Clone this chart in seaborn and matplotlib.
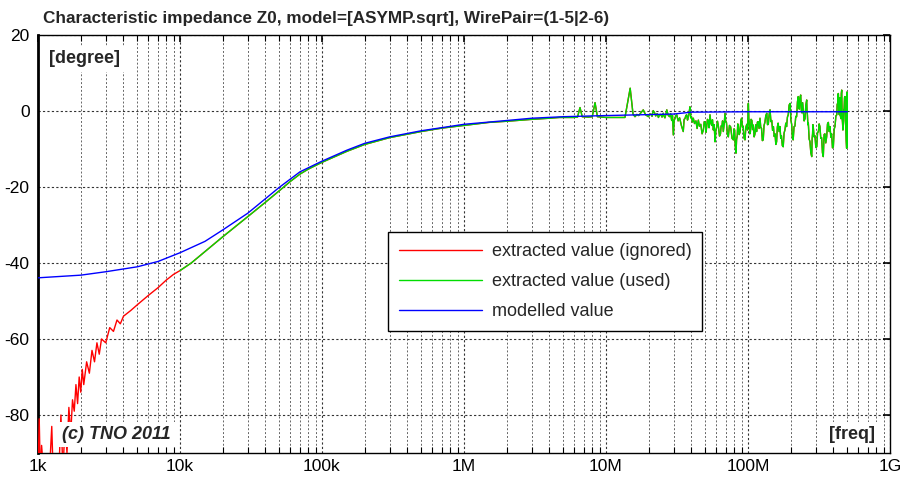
import numpy as np
import pandas as pd
import matplotlib
matplotlib.use("Agg")
import matplotlib.pyplot as plt
from matplotlib.ticker import LogLocator, FixedLocator, FixedFormatter, NullFormatter
import seaborn as sns

# ---- data (phase in degrees) ----
# low-frequency part of the extracted phase that the fit ignores (kHz)
ignored_khz = [1.00, 1.02, 1.04, 1.06, 1.10, 1.20, 1.25, 1.28, 1.35, 1.40, 1.45, 1.50,
               1.55, 1.60, 1.65, 1.70, 1.75, 1.80, 1.85, 1.90, 1.95, 2.00, 2.05, 2.10,
               2.20, 2.30, 2.40, 2.50, 2.60, 2.70, 2.80, 3.00, 3.20, 3.40, 3.60, 3.80,
               4.00, 4.50, 5.00, 6.00, 7.00, 8.00, 9.00, 10.0]
ignored_deg = [-96, -81, -97, -88, -96, -96, -83, -96, -92, -96, -80, -95,
               -82, -90, -78, -85, -76, -79, -72, -77, -70, -74, -68, -72,
               -66, -69, -63, -66, -61, -64, -60, -61, -57, -58, -55, -56,
               -54, -52.5, -51, -48.5, -46.5, -44.5, -43, -42]

# smooth part of the used extracted phase, 10 kHz .. 15 MHz (kHz)
used_smooth_khz = [10, 12, 15, 20, 25, 30, 40, 50, 60, 70, 80, 100, 150, 200, 300, 500,
                   700, 1000, 1500, 2000, 3000, 4000, 4700, 5900, 6300, 6560, 6800,
                   7500, 8000, 8370, 8700, 10000, 13600, 14800]
used_smooth_deg = [-42, -40, -37, -33.1, -30.2, -27.8, -24, -21, -18.5, -16.6, -15.3,
                   -13.5, -10.6, -8.8, -7.0, -5.4, -4.5, -3.8, -3.0, -2.7, -2.2, -1.9,
                   -1.7, -1.7, -1.6, 0.9, -1.5, -1.6, -1.5, 2.2, -1.5, -1.7, -1.7, 6.0]

# noisy high-frequency part of the used extracted phase (MHz)
used_noisy_mhz = [
    15.5, 16.0, 16.5, 17.0, 17.7, 18.3, 19.0, 19.9, 20.3, 20.7, 21.1, 21.5, 22.0, 22.4,
    22.9, 23.4, 23.8, 24.3, 24.8, 25.3, 25.6, 26.0, 26.4, 26.8, 27.4, 28.0, 28.5, 29.0,
    29.4, 29.8, 30.2, 30.6, 31.0, 31.5, 32.2, 33.0, 34.0, 35.0, 35.5, 36.0, 36.5, 37.0,
    37.5, 38.0, 38.5, 39.0, 39.5, 40.0, 40.6, 41.2, 42.0, 43.0, 43.8, 44.7, 45.5, 46.5,
    47.5, 48.5, 49.2, 50.0, 50.6, 51.2, 51.8, 52.5, 53.2, 54.0, 54.8, 55.5, 56.2, 57.0,
    57.8, 58.6, 59.3, 60.0, 61.0, 61.9, 63.0, 64.0, 64.7, 65.5, 66.2, 67.0, 68.0, 68.9,
    69.7, 70.5, 71.6, 72.7, 74.0, 75.5, 77.2, 78.9, 79.7, 80.5, 81.4, 82.3, 83.1, 84.0,
    84.7, 85.4, 86.7, 88.0, 89.1, 90.2, 91.3, 92.5, 93.8, 95.2, 96.6, 98.0, 99.3, 100.6,
    101.3, 102.0, 103.0, 104.0, 105.2, 106.5, 107.7, 109.0, 110.5, 112.0, 113.5, 115.0,
    116.5, 118.0, 119.7, 121.5, 123.0, 124.5, 126.2, 128.0, 129.7, 131.5, 133.5, 135.5,
    137.2, 139.0, 141.0, 143.0, 145.0, 147.0, 149.0, 151.0, 153.0, 155.0, 157.0, 159.0,
    161.0, 163.0, 165.5, 168.0, 170.0, 172.0, 174.5, 177.0, 179.5, 182.0, 184.5, 187.0,
    189.5, 192.0, 195.0, 198.0, 200.5, 203.0, 205.5, 208.0, 211.0, 214.0, 217.0, 220.0,
    223.0, 226.0, 228.0, 230.0, 232.5, 235.0, 237.5, 240.0, 242.5, 245.0, 248.5, 252.0,
    255.5, 259.0, 260.5, 262.0, 264.0, 266.0, 269.5, 273.0, 277.0, 281.0, 283.0, 285.0,
    286.5, 288.0, 292.0, 296.0, 300.5, 305.0, 309.0, 313.0, 317.0, 321.0, 325.5, 330.0,
    334.5, 339.0, 343.5, 348.0, 353.0, 358.0, 363.0, 368.0, 373.0, 378.0, 383.0, 388.0,
    393.5, 399.0, 404.5, 410.0, 416.0, 422.0, 425.0, 428.0, 430.5, 433.0, 436.5, 440.0,
    442.5, 445.0, 448.0, 451.0, 454.0, 457.0, 460.0, 463.0, 466.0, 469.0, 472.0, 475.0,
    478.5, 482.0, 485.0, 488.0, 491.5, 495.0, 497.5, 500.0]
used_noisy_deg = [
    -0.8, -1.5, -0.9, -1.2, -0.4, 0.3, -1.0, -1.5, -0.9, -0.8, -1.4, 0.1, -0.5, -1.3,
    -0.7, -1.7, -1.1, -0.9, -1.6, -0.6, -1.3, -1.8, -0.9, 0.3, -1.1, -1.5, -0.7, -2.5,
    -1.2, -6.3, -2.4, -2.0, -1.2, -1.0, -2.6, -1.8, -3.9, -5.4, -2.2, -2.0, -1.2, -1.0,
    -2.4, -1.6, -0.4, 1.1, -1.8, -1.5, -2.9, -1.9, -3.3, -2.6, -4.6, -2.4, -4.0, -3.5,
    -6.0, -5.0, -2.8, -3.0, -5.6, -4.1, -2.2, -2.5, -4.4, -1.0, -3.2, -3.8, -2.3, -5.0,
    -3.6, -8.1, -5.2, -4.5, -2.7, -4.1, -6.6, -6.0, -3.9, -4.0, -2.6, -5.4, -3.3, -0.6,
    -2.9, -3.0, -6.1, -6.8, -3.8, -4.2, -7.2, -7.6, -4.7, -5.0, -9.3, -11.1, -7.5, -6.5,
    -3.4, -3.7, -6.2, -5.5, -2.4, -1.9, -4.2, -4.0, -7.1, -7.6, -4.3, -3.5, -5.0, 2.0,
    -2.0, -3.0, -6.0, -5.4, -2.2, -2.5, -4.9, -3.7, -6.8, -6.0, -3.6, -5.4,
    -2.9, -2.8, -4.6, -1.9, -4.4, -4.5, -7.8, -7.6, -3.8, -3.0, -1.2, -0.6,
    -3.6, -3.5, -0.9, 0.3, -2.8, -2.5, -5.1, -4.1, -6.7, -6.0, -8.8, -8.1,
    -4.2, -3.2, -5.4, -4.1, -7.2, -6.5, -9.1, -9.4, -5.8, -5.0, -3.2, -4.1,
    -1.6, -1.0, 1.6, 2.0, -2.4, -3.5, -7.0, -7.6, -4.1, -4.0, -1.4, -1.5,
    2.4, 3.8, 0.7, 0.5, 3.6, 4.2, 0.2, -0.5, 2.2, 0.3, -2.6, -2.0,
    1.6, 2.9, -0.2, -1.0, -3.6, -3.2, -7.4, -8.0, -11.0, -12.0, -7.2, -6.0,
    -3.6, -4.1, -6.8, -6.5, -9.6, -9.4, -5.6, -5.5, -3.4, -4.1, -7.2, -7.0,
    -11.0, -12.0, -6.2, -6.0, -8.4, -6.8, -3.4, -3.0, -5.4, -4.1, -6.9, -6.0,
    -9.7, -9.4, -4.8, -4.0, -1.3, -1.0, 1.8, 2.0, 4.4, 4.6, 0.2, -1.0,
    3.0, 3.5, -1.4, -2.0, 4.6, 5.5, -1.8, -3.0, -5.0, -4.1, 0.4, 0.5,
    3.5, 3.8, -2.5, -4.0, -7.8, -9.8, 5.0, -9.5]

# fitted model phase (kHz)
model_khz = [1, 2, 3, 5, 7, 10, 15, 20, 30, 50, 70, 100, 150, 200, 300, 500,
             1000, 2000, 3000, 5000, 10000, 30000, 40000, 100000, 500000]
model_deg = [-43.9, -43.2, -42.3, -41.0, -39.6, -37.3, -34.3, -31.3, -26.9, -20.1,
             -16.0, -13.2, -10.3, -8.5, -6.8, -5.2, -3.5, -2.5, -1.9, -1.5, -1.2,
             -0.8, -0.3, -0.2, -0.2]

x_tick_hz = [1e3, 1e4, 1e5, 1e6, 1e7, 1e8, 1e9]
x_tick_labels = ["1k", "10k", "100k", "1M", "10M", "100M", "1G"]
y_ticks = [-80, -60, -40, -20, 0, 20]

series_names = ["extracted value (ignored)", "extracted value (used)", "modelled value"]
series_colors = ["#ff0000", "#00dd00", "#0000ff"]

# ---- tables ----
used_hz = np.concatenate([np.array(used_smooth_khz) * 1e3, np.array(used_noisy_mhz) * 1e6])
used_phase = np.array(used_smooth_deg + used_noisy_deg)
used = pd.DataFrame({"freq": used_hz, "phase": used_phase})
extracted = pd.DataFrame({
    "freq": np.concatenate([np.array(ignored_khz) * 1e3, used_hz[1:]]),
    "phase": np.concatenate([np.array(ignored_deg), used_phase[1:]]),
})
model = pd.DataFrame({"freq": np.array(model_khz) * 1e3, "phase": model_deg})

sns.set_theme(style="white")
plt.rcParams["font.family"] = ["Liberation Sans", "DejaVu Sans"]
plt.rcParams["axes.unicode_minus"] = False

fig = plt.figure(figsize=(9.04, 4.80), dpi=100)
ax = fig.add_axes([38 / 904, 1 - 453 / 480, 852 / 904, 418 / 480])

# red trace spans the whole extracted record; the used part is drawn over it
sns.lineplot(data=extracted, x="freq", y="phase", ax=ax, color=series_colors[0],
             lw=1.0, label=series_names[0], estimator=None, sort=False, zorder=3)
sns.lineplot(data=used, x="freq", y="phase", ax=ax, color=series_colors[1],
             lw=1.0, label=series_names[1], estimator=None, sort=False, zorder=4)
sns.lineplot(data=model, x="freq", y="phase", ax=ax, color=series_colors[2],
             lw=1.0, label=series_names[2], estimator=None, sort=False, zorder=5)

ax.set_xscale("log")
ax.set_xlim(1e3, 1e9)
ax.set_ylim(-90, 20)
ax.set_xlabel("")
ax.set_ylabel("")

ax.xaxis.set_major_locator(FixedLocator(x_tick_hz))
ax.xaxis.set_major_formatter(FixedFormatter(x_tick_labels))
ax.xaxis.set_minor_locator(LogLocator(base=10, subs=np.arange(2, 10), numticks=20))
ax.xaxis.set_minor_formatter(NullFormatter())
ax.yaxis.set_major_locator(FixedLocator(y_ticks))

ax.tick_params(axis="both", which="major", direction="in", length=5, width=1.2,
               top=True, right=True, labelsize=12.5, color="black", labelcolor="black")
ax.tick_params(axis="x", which="minor", direction="in", length=4, width=0.8,
               top=True, bottom=True, color="black")
ax.tick_params(axis="x", which="major", pad=4)
ax.tick_params(axis="y", which="major", pad=6)

ax.grid(True, which="major", axis="both", color="#333333", lw=0.8, ls=(0, (2, 2)))
ax.grid(True, which="minor", axis="x", color="#666666", lw=0.7, ls=(0, (2, 2)))

for side in ["top", "right", "bottom"]:
    ax.spines[side].set_color("black")
    ax.spines[side].set_linewidth(1.0)
ax.spines["left"].set_color("black")
ax.spines["left"].set_linewidth(2.0)

leg = ax.legend(loc="upper left", bbox_to_anchor=((388 - 38) / 852, (453 - 232) / 418),
                borderaxespad=0, fontsize=13, handlelength=4.6, handletextpad=0.55,
                labelspacing=0.72, borderpad=0.6, fancybox=False, framealpha=1,
                edgecolor="black")
leg.get_frame().set_linewidth(1.0)
leg.set_zorder(10)

ax.text(0.013, 0.963, "[degree]", transform=ax.transAxes, fontsize=13,
        fontweight="bold", ha="left", va="top", zorder=6,
        bbox=dict(facecolor="white", edgecolor="none", pad=3))
ax.text(0.982, 0.024, "[freq]", transform=ax.transAxes, fontsize=13,
        fontweight="bold", ha="right", va="bottom", zorder=6,
        bbox=dict(facecolor="white", edgecolor="none", pad=3))
ax.text(0.028, 0.024, "(c) TNO 2011", transform=ax.transAxes, fontsize=13,
        fontweight="bold", fontstyle="italic", ha="left", va="bottom", zorder=6,
        bbox=dict(facecolor="white", edgecolor="none", pad=3))

fig.text(43 / 904, 1 - 18 / 480,
         "Characteristic impedance Z0, model=[ASYMP.sqrt], WirePair=(1-5|2-6)",
         fontsize=12.3, fontweight="bold", ha="left", va="center")

fig.savefig("out.png", dpi=100, facecolor="white")
